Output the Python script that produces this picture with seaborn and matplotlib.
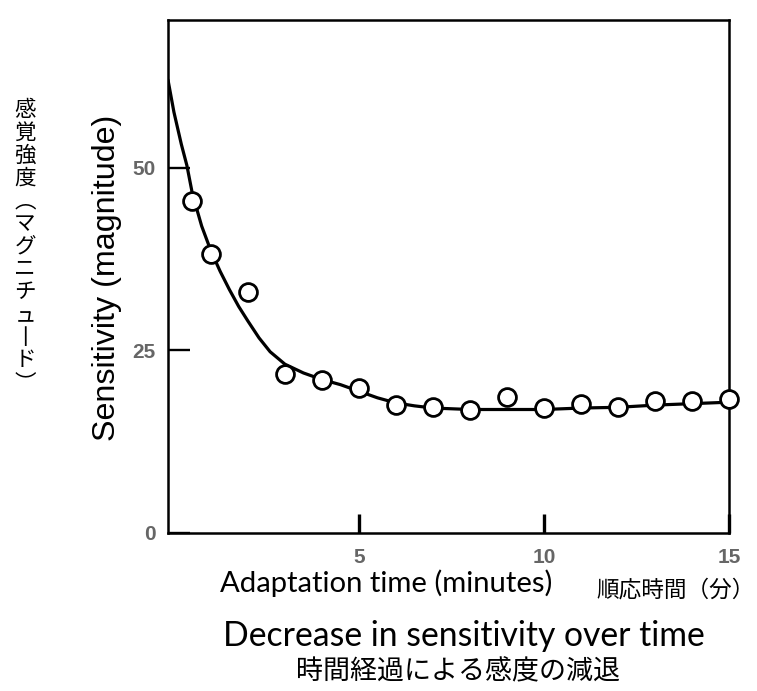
import matplotlib
matplotlib.use("Agg")
import matplotlib.pyplot as plt
import seaborn as sns

# ---- data ----
time_min = [0.5, 1, 2, 3, 4, 5, 6, 7, 8, 9, 10, 11, 12, 13, 14, 15]
sensitivity = [45.4, 38.2, 33.0, 21.8, 21.0, 19.8, 17.5, 17.3, 16.9, 18.6, 17.1, 17.7, 17.2, 18.1, 18.1, 18.3]

curve_time = [-0.16, 0.0, 0.2, 0.35, 0.5, 0.75, 1.0, 1.25, 1.5, 1.75, 2.0, 2.3, 2.6,
              3.0, 3.5, 4.0, 4.5, 5.0, 5.5, 6.0, 6.5, 7.0, 8.0, 9.0, 10.0, 11.0, 12.0, 13.0, 14.0, 15.0]
curve_sens = [62.0, 57.6, 53.2, 50.3, 46.4, 42.0, 38.6, 35.8, 33.3, 31.0, 29.0, 26.7, 24.8,
              23.1, 21.9, 21.0, 20.3, 19.4, 18.5, 17.8, 17.4, 17.1, 16.9, 16.9, 16.9, 17.1, 17.2, 17.5, 17.7, 17.9]

x_ticks = [5, 10, 15]
y_ticks = [0, 25, 50]

y_label_en = "Sensitivity (magnitude)"
y_label_jp = "感覚強度︵マグニチュ丨ド︶"   # vertical-writing forms of （ ー ）
x_label_en = "Adaptation time (minutes)"
x_label_jp = "順応時間（分）"
title_en = "Decrease in sensitivity over time"
title_jp = "時間経過による感度の減退"

# ---- style ----
sns.set_theme(style="white")
plt.rcParams['font.family'] = ['Liberation Sans', 'Noto Sans CJK JP', 'DejaVu Sans']

W, H = 757, 691
fig = plt.figure(figsize=(W / 100, H / 100), dpi=100)
fig.patch.set_facecolor("white")
ax = fig.add_axes([168 / W, 1 - 533 / H, (729 - 168) / W, (533 - 20) / H])
ax.set_facecolor("white")

sns.lineplot(x=curve_time, y=curve_sens, ax=ax, color="black", linewidth=2.3, sort=False)
sns.scatterplot(x=time_min, y=sensitivity, ax=ax, s=165, color="white",
                edgecolor="black", linewidth=2.0, zorder=3, clip_on=False)

ax.set_xlim(-0.16, 15.0)
ax.set_ylim(0, 70.2)
ax.set_xticks(x_ticks)
ax.set_yticks(y_ticks)
ax.set_xticklabels([str(v) for v in x_ticks])
ax.set_yticklabels([str(v) for v in y_ticks])

for sp in ax.spines.values():
    sp.set_visible(True)
    sp.set_color("black")
    sp.set_linewidth(1.8)

ax.tick_params(axis="x", bottom=True, top=False, direction="in", length=14, width=2.4,
               color="black", pad=11, labelsize=15, labelcolor="#666666")
ax.tick_params(axis="y", left=True, right=False, direction="in", length=16, width=1.7,
               color="black", pad=9, labelsize=15, labelcolor="#666666")
for lab in ax.get_xticklabels() + ax.get_yticklabels():
    lab.set_fontweight("bold")

ax.set_xlabel("")
ax.set_ylabel("")

def px(x, y):
    return x / W, 1 - y / H

t_ylab = fig.text(*px(107, 278), y_label_en, rotation=90, ha="center", va="center",
                  fontsize=22, family=["Liberation Sans"], color="black")
t_xlab = fig.text(*px(386, 583), x_label_en, ha="center", va="center",
                  fontsize=20, family=["Lato", "DejaVu Sans"], color="black")
t_xjp = fig.text(*px(676, 590), x_label_jp, ha="center", va="center",
                 fontsize=15.5, family=["Noto Sans CJK JP", "DejaVu Sans"], color="black")
t_title = fig.text(*px(464, 636), title_en, ha="center", va="center",
                   fontsize=25, family=["Lato", "DejaVu Sans"], color="black")
t_tjp = fig.text(*px(458, 672), title_jp, ha="center", va="center",
                 fontsize=19, family=["Noto Sans CJK JP", "DejaVu Sans"], color="black")

# vertical Japanese label, one character per cell
n = len(y_label_jp)
y0, y1 = 110, 383
for i, ch in enumerate(y_label_jp):
    yy = y0 + (y1 - y0) * i / (n - 1)
    fig.text(*px(25, yy), ch, ha="center", va="center", fontsize=15.5,
             family=["Noto Sans CJK JP", "DejaVu Sans"], color="black")

# fit text sizes to measured extents in the reference
fig.canvas.draw()
r = fig.canvas.get_renderer()
def fit(t, target, dim="w"):
    bb = t.get_window_extent(renderer=r)
    cur = bb.width if dim == "w" else bb.height
    t.set_fontsize(t.get_fontsize() * target / cur)

fit(t_ylab, 325, "h")
fit(t_xlab, 333)
fit(t_xjp, 158)
fit(t_title, 484)
fit(t_tjp, 324)

fig.savefig("out.png", dpi=100, facecolor="white")
